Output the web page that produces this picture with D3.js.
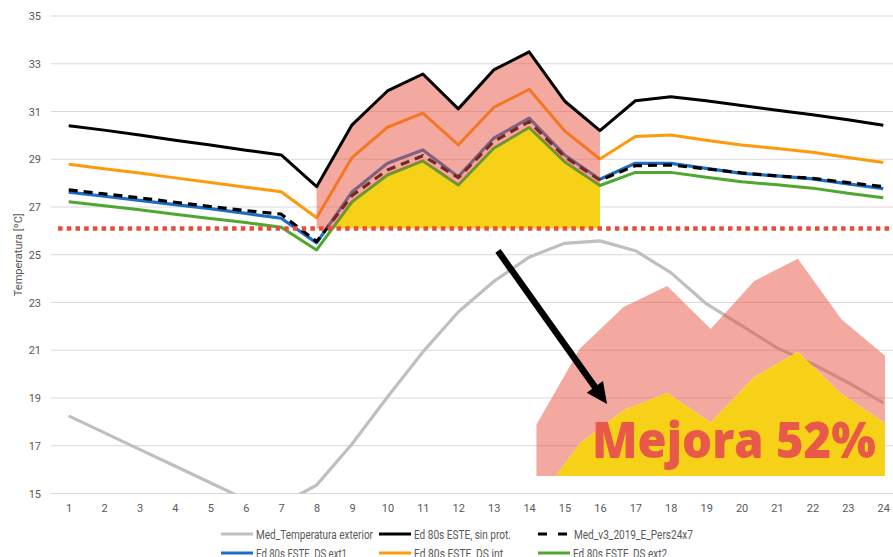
<!DOCTYPE html>
<html>
<head>
<meta charset="utf-8">
<script src="https://cdn.jsdelivr.net/npm/d3@7"></script>
<style>
  body { margin: 0; background: #fff; }
  svg { display: block; }
  .tick text { fill: #595959; font-family: Roboto, "Liberation Sans", sans-serif; font-size: 11px; }
  .leg text { fill: #595959; font-family: Roboto, "Liberation Sans", sans-serif; font-size: 12px; }
</style>
</head>
<body>
<svg id="chart"></svg>
<script>
// hours 1..24
var hours = d3.range(1, 25);

var tempExterior = [18.25, 17.55, 16.85, 16.15, 15.45, 14.75, 14.55, 15.35, 17.07, 19.04, 20.93, 22.6,
                    23.88, 24.9, 25.48, 25.58, 25.17, 24.25, 22.95, 22.03, 21.1, 20.43, 19.65, 18.8];
var sinProt = [30.40, 30.22, 30.02, 29.80, 29.60, 29.38, 29.18, 27.85, 30.44, 31.86, 32.57, 31.11,
               32.74, 33.50, 31.44, 30.20, 31.45, 31.62, 31.45, 31.25, 31.05, 30.86, 30.65, 30.42];
var medV3 = [27.72, 27.55, 27.38, 27.20, 27.02, 26.85, 26.70, 25.55, 27.48, 28.55, 29.15, 28.23,
             29.74, 30.58, 29.11, 28.12, 28.73, 28.76, 28.60, 28.43, 28.30, 28.20, 28.02, 27.85];
var dsExt1 = [27.62, 27.45, 27.28, 27.10, 26.93, 26.73, 26.53, 25.50, 27.63, 28.83, 29.39, 28.27,
              29.88, 30.72, 29.18, 28.16, 28.83, 28.83, 28.62, 28.41, 28.30, 28.18, 27.97, 27.77];
var dsInt = [28.79, 28.60, 28.42, 28.22, 28.03, 27.83, 27.64, 26.55, 29.07, 30.34, 30.93, 29.60,
             31.17, 31.93, 30.19, 29.01, 29.95, 30.02, 29.80, 29.60, 29.45, 29.29, 29.07, 28.86];
var dsExt2 = [27.22, 27.05, 26.88, 26.70, 26.52, 26.35, 26.15, 25.20, 27.22, 28.34, 28.93, 27.92,
              29.46, 30.33, 28.90, 27.90, 28.45, 28.45, 28.25, 28.06, 27.93, 27.79, 27.58, 27.39];

var confortLimit = 26.1;          // red dotted threshold
var bandHours = [8, 16];          // shaded period
var yTicks = [15, 17, 19, 21, 23, 25, 27, 29, 31, 33, 35];

var legendNames = ["Med_Temperatura exterior", "Ed 80s ESTE, sin prot.", "Med_v3_2019_E_Pers24x7",
                   "Ed 80s ESTE_DS ext1", "Ed 80s ESTE_DS int", "Ed 80s ESTE_DS ext2"];
var mejoraLabel = "Mejora 52%";

var width = 893, height = 557;
var svg = d3.select("svg#chart").attr("width", width).attr("height", height);

var x = d3.scaleLinear().domain([0.5, 24.5]).range([51, 901]);
var y = d3.scaleLinear().domain([15, 35]).range([493.5, 16]);

// inset = enlarged copy of the shaded band
var k = 1.23;
var xi = d3.scaleLinear().domain(x.domain()).range(x.range().map(function(v) {return 147 + k * v;}));
var yi = d3.scaleLinear().domain(y.domain()).range(y.range().map(function(v) {return 195 + k * v;}));

var series = [
  {name: legendNames[0], values: tempExterior, color: "#bfbfbf", w: 3.2},
  {name: legendNames[5], values: dsExt2, color: "#4ea72e", w: 3},
  {name: legendNames[4], values: dsInt, color: "#ff9a0a", w: 3},
  {name: legendNames[3], values: dsExt1, color: "#1b6ec2", w: 3.2},
  {name: legendNames[2], values: medV3, color: "#000", w: 3.2, dash: "9,6"},
  {name: legendNames[1], values: sinProt, color: "#000", w: 3}
];

// grid
svg.append("g").selectAll("line").data(yTicks).enter().append("line")
  .attr("x1", 51).attr("x2", width)
  .attr("y1", function(d) {return y(d);}).attr("y2", function(d) {return y(d);})
  .attr("stroke", "#d9d9d9").attr("stroke-width", 1);

var yAxis = svg.append("g").attr("transform", "translate(41,0)")
  .call(d3.axisLeft(y).tickValues(yTicks).tickSize(0).tickPadding(0));
yAxis.select(".domain").remove();

var xAxis = svg.append("g").attr("transform", "translate(0," + y(15) + ")")
  .call(d3.axisBottom(x).tickValues(hours).tickSize(0).tickPadding(11));
xAxis.select(".domain").remove();

svg.append("text")
  .attr("transform", "translate(22," + ((y(15) + y(35)) / 2) + ") rotate(-90)")
  .attr("text-anchor", "middle")
  .style("font-family", "Roboto, 'Liberation Sans', sans-serif")
  .style("font-size", "11px").style("fill", "#595959")
  .text("Temperatura [ºC]");

// band points with the crossing of ext2 over the limit
function bandPoints() {
  var pts = [];
  for (var h = bandHours[0]; h <= bandHours[1]; h++) {
    var g = dsExt2[h - 1], b = sinProt[h - 1];
    pts.push({h: h, lo: Math.max(g, confortLimit), b: b});
    if (h < bandHours[1]) {
      var gn = dsExt2[h], bn = sinProt[h];
      if ((g - confortLimit) * (gn - confortLimit) < 0) {
        var t = (confortLimit - g) / (gn - g);
        pts.push({h: h + t, lo: confortLimit, b: b + t * (bn - b)});
      }
    }
  }
  return pts;
}
var band = bandPoints();

function yellowArea(xs, ys) {
  return d3.area().x(function(d) {return xs(d.h);})
    .y0(ys(confortLimit)).y1(function(d) {return ys(d.lo);});
}
function pinkArea(xs, ys) {
  return d3.area().x(function(d) {return xs(d.h);})
    .y0(function(d) {return ys(d.lo);}).y1(function(d) {return ys(d.b);});
}

svg.append("path").datum(band).attr("d", yellowArea(x, y)).attr("fill", "#f7d117");

var line = d3.line()
  .x(function(d, i) {return x(hours[i]);})
  .y(function(d) {return y(d);});

svg.append("clipPath").attr("id", "plotclip").append("rect")
  .attr("x", 0).attr("y", 0).attr("width", width).attr("height", y(15));

var lines = svg.append("g").attr("clip-path", "url(#plotclip)");
series.slice(0, 5).forEach(function(s) {
  lines.append("path").datum(s.values)
    .attr("d", line).attr("fill", "none")
    .attr("stroke", s.color).attr("stroke-width", s.w)
    .attr("stroke-dasharray", s.dash || null)
    .attr("stroke-linejoin", "round");
});

svg.append("path").datum(band).attr("d", pinkArea(x, y))
  .attr("fill", "#e7533f").attr("fill-opacity", 0.5);

svg.append("path").datum(sinProt).attr("d", line).attr("fill", "none")
  .attr("stroke", "#000").attr("stroke-width", 3).attr("stroke-linejoin", "round");

// limit
svg.append("line")
  .attr("x1", x(0.7)).attr("x2", width)
  .attr("y1", y(confortLimit)).attr("y2", y(confortLimit))
  .attr("stroke", "#e84c3d").attr("stroke-width", 4.5)
  .attr("stroke-dasharray", "4.5,4.2");

// inset
svg.append("path").datum(band).attr("d", pinkArea(xi, yi))
  .attr("fill", "#e7533f").attr("fill-opacity", 0.5);
svg.append("path").datum(band).attr("d", yellowArea(xi, yi)).attr("fill", "#f7d117");

// arrow
var a0 = [x(13.12), y(25.16)], a1 = [x(16.2), y(18.75)];
var ang = Math.atan2(a1[1] - a0[1], a1[0] - a0[0]);
var headL = 21, headW = 10;
var base = [a1[0] - headL * Math.cos(ang), a1[1] - headL * Math.sin(ang)];
svg.append("line")
  .attr("x1", a0[0]).attr("y1", a0[1]).attr("x2", base[0] + 2 * Math.cos(ang)).attr("y2", base[1] + 2 * Math.sin(ang))
  .attr("stroke", "#000").attr("stroke-width", 6.5);
svg.append("path")
  .attr("d", "M" + a1 + "L" + [base[0] + headW * Math.sin(ang), base[1] - headW * Math.cos(ang)] +
    "L" + [base[0] - headW * Math.sin(ang), base[1] + headW * Math.cos(ang)] + "Z")
  .attr("fill", "#000");

svg.append("text")
  .attr("x", 592).attr("y", 458)
  .attr("textLength", 284).attr("lengthAdjust", "spacingAndGlyphs")
  .style("font-family", "'Open Sans', 'Noto Sans', sans-serif")
  .style("font-weight", 800).style("font-size", "50px")
  .style("fill", "#e8594a")
  .text(mejoraLabel);

// legend
var legendItems = [
  {s: series[0], x: 221, y: 534, tw: 117}, {s: series[5], x: 379, y: 534, tw: 97}, {s: series[4], x: 538, y: 534, tw: 119},
  {s: series[3], x: 221, y: 553, tw: 91}, {s: series[2], x: 379, y: 553, tw: 89}, {s: series[1], x: 538, y: 553, tw: 94}
];
var leg = svg.append("g").attr("class", "leg").selectAll("g").data(legendItems).enter().append("g")
  .attr("transform", function(d) {return "translate(" + d.x + "," + d.y + ")";});
leg.append("line")
  .attr("x1", 0).attr("x2", function(d) {return d.s.dash ? 29 : 32;})
  .attr("stroke", function(d) {return d.s.color;})
  .attr("stroke-width", 3)
  .attr("stroke-dasharray", function(d) {return d.s.dash ? "9,11" : null;});
leg.append("text")
  .attr("x", function(d) {return d.s.dash ? 36 : 35;})
  .attr("y", 4.5)
  .attr("textLength", function(d) {return d.tw;})
  .attr("lengthAdjust", "spacingAndGlyphs")
  .text(function(d) {return d.s.name;});
</script>
</body>
</html>
